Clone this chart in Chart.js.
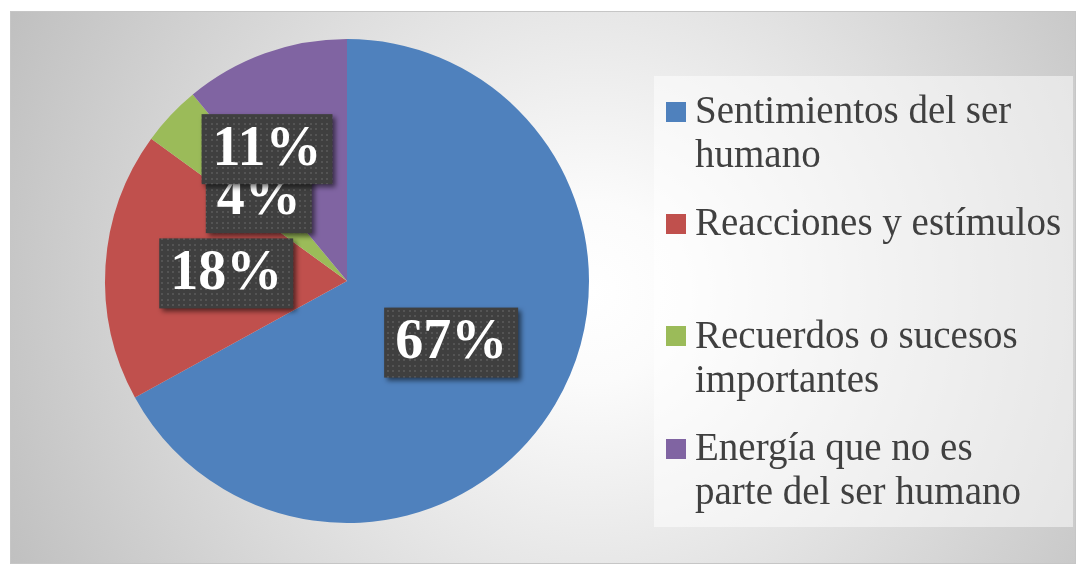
<!DOCTYPE html>
<html>
<head>
<meta charset="utf-8">
<script src="https://cdn.jsdelivr.net/npm/chart.js@4.4.1/dist/chart.umd.min.js"></script>
<style>
    html, body { margin: 0; padding: 0; background: #fff; }
    #wrap { position: relative; width: 1076px; height: 565px; overflow: hidden; }
    #frame {
        position: absolute; left: 10px; top: 11px; width: 1064px; height: 551px;
        border: 1px solid #c6c6c6;
        background: radial-gradient(circle at 580px 280px, #ffffff 0px, #fbfbfb 90px, #bfbfbf 650px);
    }
    #pie { position: absolute; left: 0; top: 0; }
    #legend {
        position: absolute; left: 654px; top: 76px; width: 419px; height: 451px;
        background: rgba(255, 255, 255, 0.5);
        font-family: "Liberation Serif", serif; font-size: 39px; line-height: 44px; color: #404040;
    }
    .item { position: absolute; left: 0; }
    .item .box { position: absolute; left: 12px; top: 13.5px; width: 20px; height: 20px; }
    .item .txt { position: absolute; left: 41px; top: 0; white-space: nowrap; }
</style>
</head>
<body>
<div id="wrap">
    <div id="frame"></div>
    <canvas id="pie" width="1076" height="565"></canvas>
    <div id="legend"></div>
</div>
<script>
// Chart data
const categories = [
    ['Sentimientos del ser', 'humano'],
    ['Reacciones y estímulos'],
    ['Recuerdos o sucesos', 'importantes'],
    ['Energía que no es', 'parte del ser humano']
];
const percents = [67, 18, 4, 11];
const sliceColors = ['#4f81bd', '#c0504d', '#9bbb59', '#8064a2'];

// label placement tweaks (px), 11% was pushed out of the way in the original
const labelNudge = [[0, 0], [0, 0], [0, 0], [-39, -18]];

/**
 * Dotted dark fill used behind the data labels
 */
function makeDotPattern(ctx) {
    const c = document.createElement('canvas');
    c.width = 11; c.height = 11;
    const p = c.getContext('2d');
    p.fillStyle = '#3f3f3f';
    p.fillRect(0, 0, 11, 11);
    p.fillStyle = '#545454';
    p.fillRect(2, 2, 2, 2);
    p.fillRect(7, 2, 2, 2);
    p.fillRect(2, 7, 2, 2);
    p.fillRect(7, 7, 2, 2);
    return ctx.createPattern(c, 'repeat');
}

const boxLabels = {
    id: 'boxLabels',
    afterDatasetsDraw(chart) {
        const ctx = chart.ctx;
        const meta = chart.getDatasetMeta(0);
        const pattern = makeDotPattern(ctx);
        ctx.save();
        ctx.font = 'bold 56px "Liberation Serif", serif';
        ctx.textAlign = 'center';
        ctx.textBaseline = 'middle';
        meta.data.forEach((arc, i) => {
            const p = arc.getProps(['x', 'y', 'startAngle', 'endAngle', 'outerRadius'], true);
            const mid = (p.startAngle + p.endAngle) / 2;
            const cx = p.x + Math.cos(mid) * p.outerRadius * 0.5 + labelNudge[i][0];
            const cy = p.y + Math.sin(mid) * p.outerRadius * 0.5 + labelNudge[i][1];
            const text = percents[i] + '%';
            const w = ctx.measureText(text).width + 22;
            const h = 70;

            ctx.save();
            ctx.shadowColor = 'rgba(0, 0, 0, 0.55)';
            ctx.shadowBlur = 5;
            ctx.shadowOffsetX = 3;
            ctx.shadowOffsetY = 3;
            ctx.fillStyle = pattern;
            ctx.fillRect(cx - w / 2, cy - h / 2, w, h);
            ctx.restore();

            ctx.fillStyle = '#ffffff';
            ctx.fillText(text, cx, cy + 1);
        });
        ctx.restore();
    }
};

new Chart(document.getElementById('pie'), {
    type: 'pie',
    data: {
        labels: categories,
        datasets: [{
            data: percents,
            backgroundColor: sliceColors,
            borderWidth: 0
        }]
    },
    options: {
        responsive: false,
        animation: false,
        layout: { padding: { left: 105, right: 487, top: 39, bottom: 42 } },
        plugins: {
            legend: { display: false },
            tooltip: { enabled: false }
        }
    },
    plugins: [boxLabels]
});

// HTML legend
const legend = document.getElementById('legend');
categories.forEach((lines, i) => {
    const item = document.createElement('div');
    item.className = 'item';
    item.style.top = (12 + i * 112.4) + 'px';
    item.innerHTML = '<div class="box" style="background:' + sliceColors[i] + '"></div>' +
        '<div class="txt">' + lines.join('<br>') + '</div>';
    legend.appendChild(item);
});
</script>
</body>
</html>
